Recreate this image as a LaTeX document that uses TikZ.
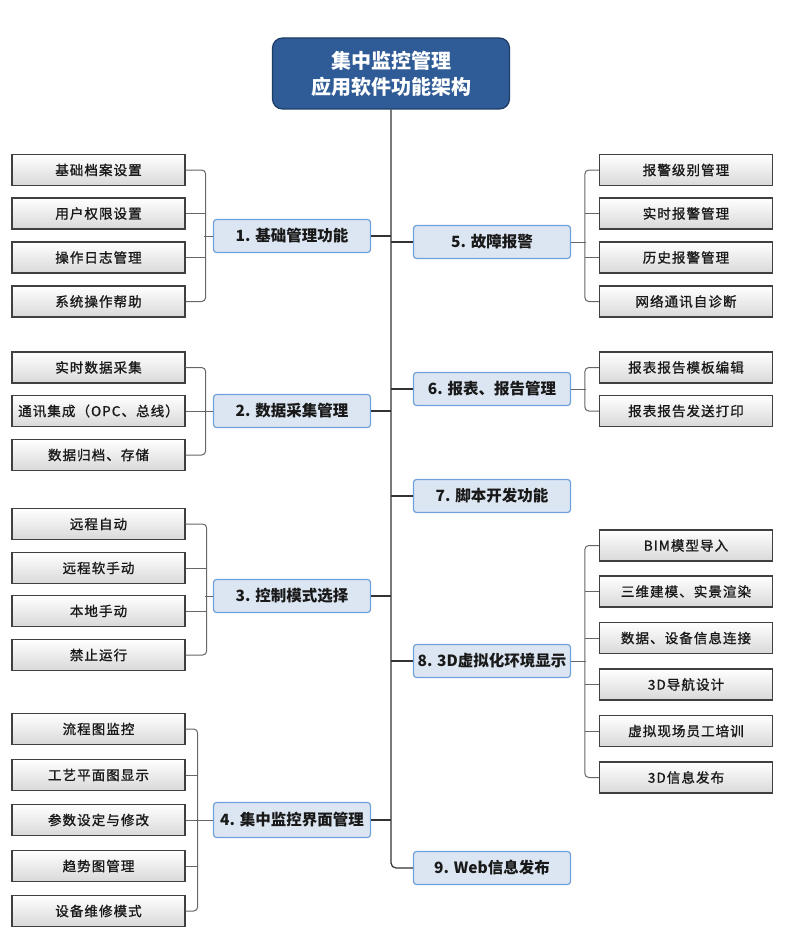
\documentclass[tikz,border=0pt]{standalone}
\usepackage{fontspec}
\setmainfont{Noto Sans CJK SC}
\newfontfamily\leaffont{Noto Sans CJK SC}[LetterSpace=8, FakeBold=1.2]
\definecolor{titleblue}{HTML}{2F5B96}
\definecolor{titleedge}{HTML}{1E3D66}
\definecolor{catfill}{HTML}{DCE6F2}
\definecolor{catedge}{HTML}{6FA0DC}
\definecolor{leafedge}{HTML}{404040}
\definecolor{brgray}{HTML}{666666}
\definecolor{spinegray}{HTML}{333333}
\tikzset{
  titlebox/.style={rounded corners=10pt, fill=titleblue, draw=titleedge, line width=1.2pt,
    minimum width=237pt, minimum height=71pt, text=white, align=center,
    font=\bfseries\fontsize{20}{26}\selectfont, inner sep=0pt},
  catbox/.style={rounded corners=3pt, fill=catfill, draw=catedge, line width=1.2pt,
    minimum width=157pt, minimum height=33pt, inner sep=0pt,
    font=\bfseries\fontsize{15.5}{18}\selectfont, text=black!90},
  leafbox/.style={draw=leafedge, line width=1.3pt, top color=white, bottom color=black!15,
    minimum width=173pt, minimum height=31pt, inner sep=0pt,
    font=\leaffont\fontsize{13.5}{16}\selectfont, text=black!90},
  br/.style={draw=brgray, line width=1pt, rounded corners=4pt},
  sp/.style={draw=spinegray, line width=1.2pt, rounded corners=5pt},
}
\begin{document}
\begin{tikzpicture}[x=1pt,y=-1pt]
\useasboundingbox (0,0) rectangle (800,939);
% title
\node[titlebox] (title) at (391,73.5) {集中监控管理\\应用软件功能架构};
% categories
\node[catbox] (c1) at (292,236) {1. 基础管理功能};
\node[catbox] (c2) at (292,411) {2. 数据采集管理};
\node[catbox] (c3) at (292,596) {3. 控制模式选择};
\node[catbox, minimum height=35pt] (c4) at (292,820) {4. 集中监控界面管理};
\node[catbox] (c5) at (492,242) {5. 故障报警};
\node[catbox] (c6) at (492,389) {6. 报表、报告管理};
\node[catbox] (c7) at (492,496) {7. 脚本开发功能};
\node[catbox] (c8) at (492,661) {8. 3D虚拟化环境显示};
\node[catbox] (c9) at (492,868) {9. Web信息发布};
% left leaves
\node[leafbox] (l11) at (98.5,170) {基础档案设置};
\node[leafbox] (l12) at (98.5,213.5) {用户权限设置};
\node[leafbox] (l13) at (98.5,257.5) {操作日志管理};
\node[leafbox] (l14) at (98.5,301.5) {系统操作帮助};
\node[leafbox] (l21) at (98.5,367.5) {实时数据采集};
\node[leafbox] (l22) at (98.5,411) {通讯集成（OPC、总线）};
\node[leafbox] (l23) at (98.5,455) {数据归档、存储};
\node[leafbox] (l31) at (98.5,524) {远程自动};
\node[leafbox] (l32) at (98.5,568) {远程软手动};
\node[leafbox] (l33) at (98.5,611) {本地手动};
\node[leafbox] (l34) at (98.5,655) {禁止运行};
\node[leafbox] (l41) at (98.5,729) {流程图监控};
\node[leafbox] (l42) at (98.5,775) {工艺平面图显示};
\node[leafbox] (l43) at (98.5,820) {参数设定与修改};
\node[leafbox] (l44) at (98.5,866) {趋势图管理};
\node[leafbox] (l45) at (98.5,911) {设备维修模式};
% right leaves
\node[leafbox] (r51) at (686,170) {报警级别管理};
\node[leafbox] (r52) at (686,213.5) {实时报警管理};
\node[leafbox] (r53) at (686,257.5) {历史报警管理};
\node[leafbox] (r54) at (686,301.5) {网络通讯自诊断};
\node[leafbox] (r61) at (686,367.5) {报表报告模板编辑};
\node[leafbox] (r62) at (686,411) {报表报告发送打印};
\node[leafbox] (r81) at (686,545.5) {BIM模型导入};
\node[leafbox] (r82) at (686,591.5) {三维建模、实景渲染};
\node[leafbox] (r83) at (686,638) {数据、设备信息连接};
\node[leafbox] (r84) at (686,684.5) {3D导航设计};
\node[leafbox] (r85) at (686,731) {虚拟现场员工培训};
\node[leafbox] (r86) at (686,777.5) {3D信息发布};
% spine
\draw[sp] (title.south) |- (c9.west);
\foreach \c in {c1,c2,c3,c4} \draw[sp] (\c.east) -- (\c.east -| title.south);
\foreach \c in {c5,c6,c7,c8} \draw[sp] (\c.west) -- (\c.west -| title.south);
% left brackets
\draw[br] (l11.east) -- ++(20,0) |- (l14.east);
\draw[br] (l12.east) -- ++(20,0);
\draw[br] (l13.east) -- ++(20,0);
\draw[br] (c1.west) -- ++(-9,0);
\draw[br] (l21.east) -- ++(20,0) |- (l23.east);
\draw[br] (l22.east) -- ++(20,0);
\draw[br] (c2.west) -- ++(-9,0);
\draw[br] (l31.east) -- ++(21,0) |- (l34.east);
\draw[br] (l32.east) -- ++(21,0);
\draw[br] (l33.east) -- ++(21,0);
\draw[br] (c3.west) -- ++(-8,0);
\draw[br] (l41.east) -- ++(12,0) |- (l45.east);
\draw[br] (l42.east) -- ++(12,0);
\draw[br] (l43.east) -- ++(12,0);
\draw[br] (l44.east) -- ++(12,0);
\draw[br] (c4.west) -- ++(-17,0);
% right brackets
\draw[br] (r51.west) -- ++(-14,0) |- (r54.west);
\draw[br] (r52.west) -- ++(-14,0);
\draw[br] (r53.west) -- ++(-14,0);
\draw[br] (c5.east) -- ++(15,0);
\draw[br] (r61.west) -- ++(-14,0) |- (r62.west);
\draw[br] (c6.east) -- ++(15,0);
\draw[br] (r81.west) -- ++(-14,0) |- (r86.west);
\foreach \r in {r82,r83,r84,r85} \draw[br] (\r.west) -- ++(-14,0);
\draw[br] (c8.east) -- ++(15,0);
\end{tikzpicture}
\end{document}
